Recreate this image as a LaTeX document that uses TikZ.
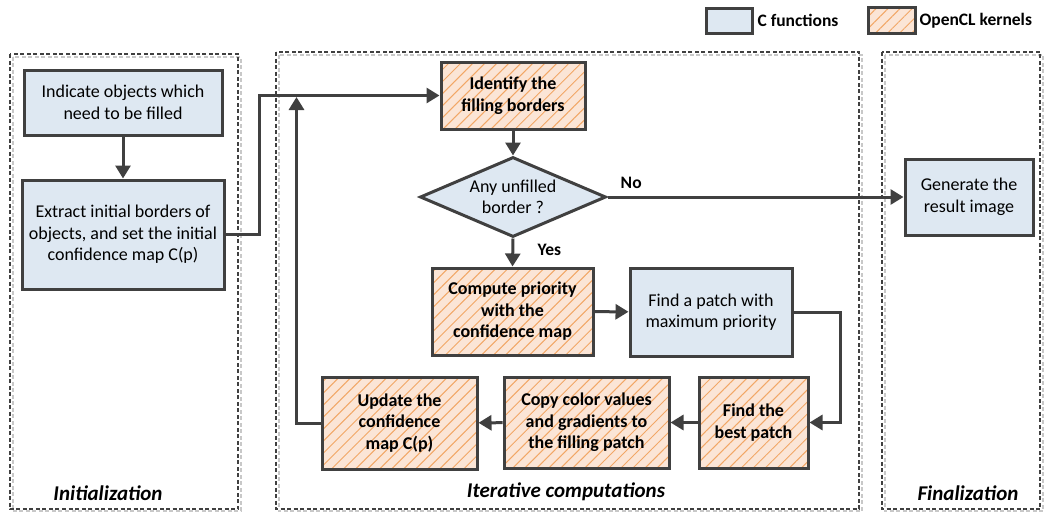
\documentclass[tikz,border=0pt]{standalone}
\usepackage{fontspec}
\setmainfont{Carlito}
\usetikzlibrary{arrows.meta,shapes.geometric,patterns.meta,calc}

\definecolor{dk}{HTML}{404040}
\definecolor{bluefill}{HTML}{DEE8F2}
\definecolor{orfill}{HTML}{FBE5D6}
\definecolor{orline}{HTML}{F2A766}
\definecolor{shade}{HTML}{C8C8C8}

\tikzset{
  boxtext/.style={font=\fontsize{18}{21.5}\selectfont, align=center, text=black},
  cfun/.style={boxtext, draw=dk, line width=3pt, fill=bluefill, inner sep=0pt},
  kern/.style={boxtext, font=\fontsize{18}{21.5}\selectfont\bfseries, draw=dk, line width=3pt, fill=orfill, inner sep=0pt,
    postaction={pattern={Lines[angle=45,distance=8.5pt,line width=1pt]}, pattern color=orline},
    postaction={draw=dk, line width=3pt}},
  arr/.style={draw=dk, line width=3pt, -{Triangle[length=13pt,width=15pt]}},
  frame/.style={draw=dk, line width=2pt, dash pattern=on 4pt off 2.5pt},
  frameshadow/.style={draw=shade, line width=2pt, dash pattern=on 4pt off 2.5pt},
  phase/.style={font=\fontsize{21}{24}\selectfont\bfseries\itshape, text=black},
  lbl/.style={font=\fontsize{17.5}{20}\selectfont\bfseries, text=black},
}

\begin{document}
\begin{tikzpicture}[x=1pt,y=-1pt]
\useasboundingbox (0,0) rectangle (1047,512);

% phase frames with their soft shadows
\draw[frameshadow] (12.5,56.5) rectangle (240.5,511);
\draw[frame] (10,54) rectangle (238,509);
\draw[frameshadow] (278.5,54.5) rectangle (861.5,511);
\draw[frame] (276,52) rectangle (859,509);
\draw[frameshadow] (884.5,54.5) rectangle (1043,511);
\draw[frame] (882,52) rectangle (1040,509);

\node[phase] (tinit) at (108,493) {Initialization};
\node[phase] (titer) at (566,492) {Iterative computations};
\node[phase] (tfin) at (968,493) {Finalization};

% legend
\node[cfun, minimum width=46pt, minimum height=25pt] (legc) at (729,20.5) {};
\node[lbl, anchor=west] (legct) at (754,20.5) {C functions};
\node[kern, minimum width=47pt, minimum height=26pt] (lego) at (891.5,20) {};
\node[lbl, anchor=west] (legot) at (916,20.5) {OpenCL kernels};

% initialization
\node[cfun, minimum width=198pt, minimum height=65pt] (ind) at (123,102.5)
  {Indicate objects which\\need to be filled};
\node[cfun, minimum width=202pt, minimum height=109pt] (ext) at (123,234.5)
  {Extract initial borders of\\objects, and set the initial\\confidence map C(p)};

% iterative part
\node[kern, minimum width=144pt, minimum height=67pt] (idf) at (513,95.5)
  {Identify the\\filling borders};
\node[diamond, draw=dk, line width=3pt, fill=bluefill, boxtext, inner sep=0pt,
      minimum width=186pt, minimum height=80pt, aspect=2.325] (dec) at (513,197)
  {Any unfilled\\border ?};
\node[kern, minimum width=161pt, minimum height=87pt] (cmp) at (512.5,311.5)
  {Compute priority\\with the\\confidence map};
\node[cfun, minimum width=162pt, minimum height=88pt] (fnd) at (711,312)
  {Find a patch with\\maximum priority};
\node[kern, minimum width=109pt, minimum height=91pt] (bst) at (753.5,422.5)
  {Find the\\best patch};
\node[kern, minimum width=165pt, minimum height=91pt] (cpy) at (586.5,422.5)
  {Copy color values\\and gradients to\\the filling patch};
\node[kern, minimum width=155pt, minimum height=92pt] (upd) at (399.5,423)
  {Update the\\confidence\\map C(p)};

% finalization
\node[cfun, minimum width=128pt, minimum height=76pt] (gen) at (969,197)
  {Generate the\\result image};

% connectors
\draw[arr] (ind) -- (ext);
\draw[arr] (ext.east) -- ++(34,0) |- (idf.west);
\draw[arr] (idf) -- (dec);
\draw[arr] (dec.east) -- node[lbl, pos=0.08, above=4pt] (no) {No} (gen.west);
\draw[arr] (dec.south) -- node[lbl, right=20pt, pos=0.4] (yes) {Yes} (cmp.north);
\draw[arr] (cmp) -- (fnd);
\draw[arr] (fnd.east) -- ++(47,0) |- (bst.east);
\draw[arr] (bst) -- (cpy);
\draw[arr] (cpy) -- (upd);
\draw[arr] (upd.west) -- ++(-24,0) coordinate (lp) -- ($(lp |- idf.west)+(0,1.5)$);
\end{tikzpicture}
\end{document}
